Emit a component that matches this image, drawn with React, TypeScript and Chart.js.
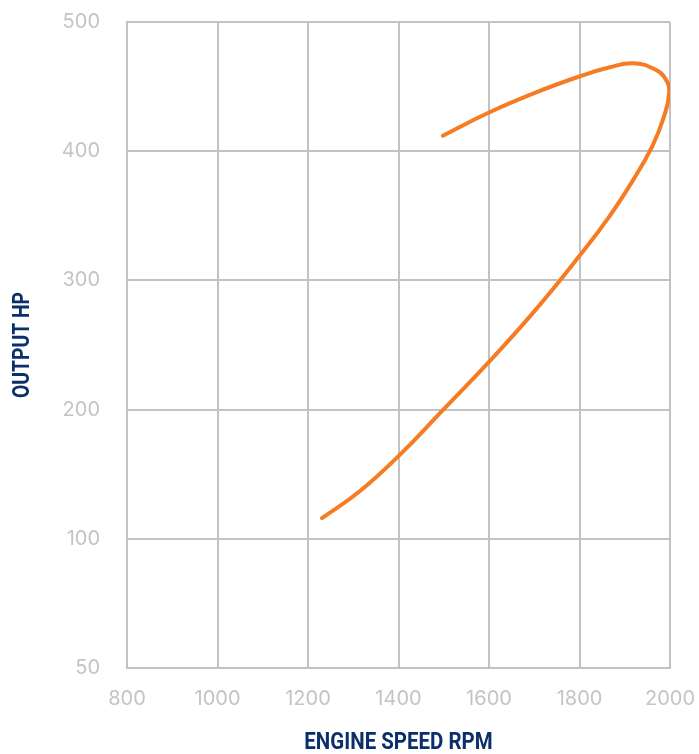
import { useEffect, useRef } from 'react';
import { Chart, registerables } from 'chart.js';

Chart.register(...registerables);

const rpm = [1231, 1315, 1400, 1499, 1600, 1700, 1800, 1867, 1919, 1961, 1985, 1998, 1990, 1963, 1919, 1867, 1801, 1700, 1600, 1498];
const hp = [116, 137, 164, 200, 237, 276, 319, 350, 378, 404, 425, 445, 456, 464, 468, 465, 458, 445, 430, 412];
const xTickValues = [800, 1000, 1200, 1400, 1600, 1800, 2000];
const yTickValues = [0, 100, 200, 300, 400, 500];
const yTickLabels = ['50', '100', '200', '300', '400', '500'];
const xTitle = 'ENGINE SPEED RPM';
const yTitle = 'OUTPUT HP';

const GRID = '#c2c2c6';
const TICK = '#c4c4c6';
const NAVY = '#0b2f6b';
const TICK_FONT = { family: 'Inter, Roboto, sans-serif', size: 20, lineHeight: 1.2 };
const TITLE_FONT = 'bold 23px Roboto, "DejaVu Sans", sans-serif';

const axisTitles = {
  id: 'axisTitles',
  afterDraw(chart: any) {
    const { ctx, chartArea, height } = chart;
    ctx.save();
    ctx.font = TITLE_FONT;
    ctx.fillStyle = NAVY;
    ctx.textAlign = 'center';
    ctx.textBaseline = 'alphabetic';
    ctx.save();
    ctx.translate((chartArea.left + chartArea.right) / 2, height - 5);
    ctx.scale(0.89, 1);
    ctx.fillText(xTitle, 0, 0);
    ctx.restore();
    ctx.save();
    ctx.translate(29, (chartArea.top + chartArea.bottom) / 2);
    ctx.rotate(-Math.PI / 2);
    ctx.scale(0.84, 1);
    ctx.fillText(yTitle, 0, 0);
    ctx.restore();
    ctx.restore();
  },
};

const noPad = (s: any) => {
  s.paddingLeft = 0;
  s.paddingRight = 0;
  s.paddingTop = 0;
  s.paddingBottom = 0;
};

export default function App() {
  const ref = useRef<HTMLCanvasElement>(null);
  useEffect(() => {
    const chart = new Chart(ref.current as HTMLCanvasElement, {
      type: 'scatter',
      data: {
        datasets: [
          {
            data: rpm.map((x, i) => ({ x, y: hp[i] })),
            showLine: true,
            borderColor: '#f57c22',
            backgroundColor: '#f57c22',
            borderWidth: 4,
            tension: 0.45,
            pointRadius: 0,
            borderCapStyle: 'round',
            borderJoinStyle: 'round',
            fill: false,
          } as any,
        ],
      },
      options: {
        animation: false,
        responsive: true,
        maintainAspectRatio: false,
        layout: { padding: { top: 22, right: 29, bottom: 0, left: 0 } },
        plugins: { legend: { display: false }, tooltip: { enabled: false } },
        scales: {
          x: {
            type: 'linear',
            min: 800,
            max: 2000,
            afterBuildTicks: (s: any) => {
              s.ticks = xTickValues.map((v) => ({ value: v }));
            },
            afterFit: (s: any) => {
              s.height = 86;
              noPad(s);
            },
            grid: { color: GRID, lineWidth: 2, drawTicks: false },
            border: { color: GRID, width: 2 },
            ticks: {
              padding: 19,
              font: TICK_FONT,
              color: TICK,
              maxRotation: 0,
              callback: (v: any) => String(v),
            },
          },
          y: {
            type: 'linear',
            min: 0,
            max: 500,
            afterBuildTicks: (s: any) => {
              s.ticks = yTickValues.map((v) => ({ value: v }));
            },
            afterFit: (s: any) => {
              s.width = 127;
              noPad(s);
            },
            grid: { color: GRID, lineWidth: 2, drawTicks: false },
            border: { color: GRID, width: 2 },
            ticks: {
              padding: 27,
              font: TICK_FONT,
              color: TICK,
              callback: (_v: any, i: number) => yTickLabels[i],
            },
          },
        },
      },
      plugins: [axisTitles],
    });
    return () => chart.destroy();
  }, []);
  return (
    <div style={{ position: 'fixed', left: 0, top: 0, width: 699, height: 754 }}>
      <canvas ref={ref} />
    </div>
  );
}
